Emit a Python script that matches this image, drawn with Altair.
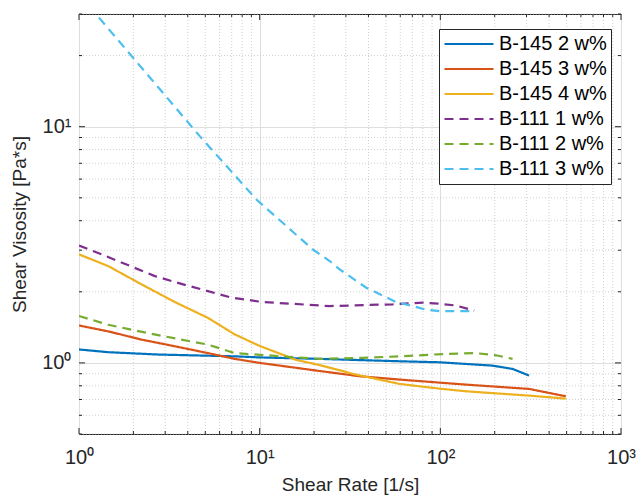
import altair as alt
import pandas as pd

series_names = ["B-145 2 w%", "B-145 3 w%", "B-145 4 w%", "B-111 1 w%", "B-111 2 w%", "B-111 3 w%"]
series_colors = ["#0072BD", "#D95319", "#EDB120", "#7E2F8E", "#77AC30", "#4DBEEE"]
series_dash = [[1, 0], [1, 0], [1, 0], [9, 6], [9, 6], [9, 6]]

b145_2_x = [1, 1.45, 2.74, 7.28, 10, 21.3, 59.3, 98.7, 194, 251, 310]
b145_2_y = [1.14, 1.11, 1.085, 1.066, 1.055, 1.04, 1.016, 1.006, 0.974, 0.943, 0.884]

b145_3_x = [1, 1.45, 2.22, 3.39, 5.18, 7.28, 10, 20.6, 35.7, 59.3, 139, 310, 495]
b145_3_y = [1.44, 1.36, 1.255, 1.176, 1.10, 1.04, 1.0, 0.928, 0.878, 0.85, 0.809, 0.776, 0.722]

b145_4_x = [1, 1.45, 2.22, 3.39, 5.18, 7.28, 10, 15.9, 21.3, 34.2, 59.3, 99, 139, 310, 495]
b145_4_y = [2.88, 2.57, 2.15, 1.81, 1.55, 1.32, 1.18, 1.03, 0.98, 0.892, 0.815, 0.778, 0.758, 0.727, 0.706]

b111_1_x = [1, 1.335, 2.63, 3.77, 6.98, 10.4, 24.4, 54.5, 79.8, 98.7, 122, 154]
b111_1_y = [3.14, 2.88, 2.33, 2.15, 1.89, 1.81, 1.74, 1.77, 1.80, 1.78, 1.75, 1.665]

b111_2_x = [1, 1.45, 2.74, 5.18, 7.28, 21.5, 37, 59.3, 103, 157, 203, 251]
b111_2_y = [1.58, 1.45, 1.31, 1.195, 1.10, 1.04, 1.05, 1.066, 1.09, 1.10, 1.077, 1.04]

b111_3_x = [1, 1.24, 4.66, 9.59, 19.7, 24.4, 27.7, 38.9, 56.9, 70.3, 83.4, 98.7, 154]
b111_3_y = [36, 30, 9.12, 4.92, 3.02, 2.70, 2.49, 2.08, 1.81, 1.74, 1.68, 1.655, 1.655]

x_major = [1, 10, 100, 1000]
y_major = [1, 10]
x_minor = [2, 3, 4, 5, 6, 7, 8, 9, 20, 30, 40, 50, 60, 70, 80, 90, 200, 300, 400, 500, 600, 700, 800, 900]
y_minor = [0.5, 0.6, 0.7, 0.8, 0.9, 2, 3, 4, 5, 6, 7, 8, 9, 20, 30]

xs = [b145_2_x, b145_3_x, b145_4_x, b111_1_x, b111_2_x, b111_3_x]
ys = [b145_2_y, b145_3_y, b145_4_y, b111_1_y, b111_2_y, b111_3_y]
rows = []
for name, xv, yv in zip(series_names, xs, ys):
    for i, (a, b) in enumerate(zip(xv, yv)):
        rows.append({"series": name, "rate": a, "visc": b, "order": i})
df = pd.DataFrame(rows)

FONT = "Liberation Sans"
TXT = "#262626"
W, H = 542, 420

xscale = alt.Scale(type="log", domain=[1, 1000], nice=False)
yscale = alt.Scale(type="log", domain=[0.5, 30], nice=False)
sup = "['⁰','¹','²','³'][round(log(datum.value)/LN10)]"

xaxis = alt.Axis(title="Shear Rate [1/s]", values=x_major, labelExpr="'10' + " + sup,
                 grid=True, gridColor="#dedede", ticks=False, domain=False,
                 labelFont=FONT, labelFontSize=20, labelColor=TXT, labelPadding=13,
                 titleFont=FONT, titleFontSize=19, titleFontWeight="normal", titleColor=TXT,
                 titlePadding=8, labelFlush=False)
yaxis = alt.Axis(title="Shear Visosity [Pa*s]", values=y_major, labelExpr="'10' + " + sup,
                 grid=True, gridColor="#dedede", ticks=False, domain=False,
                 labelFont=FONT, labelFontSize=20, labelColor=TXT, labelPadding=8,
                 titleFont=FONT, titleFontSize=19, titleFontWeight="normal", titleColor=TXT,
                 titlePadding=12, labelFlush=False)

xmin_df = pd.DataFrame({"v": x_minor})
ymin_df = pd.DataFrame({"v": y_minor})
xmaj_df = pd.DataFrame({"v": x_major})
ymaj_df = pd.DataFrame({"v": y_major})

def X(f):
    return alt.X(f, scale=xscale, axis=xaxis)

def Y(f):
    return alt.Y(f, scale=yscale, axis=yaxis)

minor_x = alt.Chart(xmin_df).mark_rule(color="#c4c4c4", strokeDash=[1, 2], strokeWidth=0.8).encode(x=X("v:Q"))
minor_y = alt.Chart(ymin_df).mark_rule(color="#c4c4c4", strokeDash=[1, 2], strokeWidth=0.8).encode(y=Y("v:Q"))

tick_col = TXT
def tickx(d, a, b):
    return alt.Chart(d).mark_rule(color=tick_col, strokeWidth=1).encode(x=X("v:Q"), y=alt.value(a), y2=alt.value(b))

def ticky(d, a, b):
    return alt.Chart(d).mark_rule(color=tick_col, strokeWidth=1).encode(y=Y("v:Q"), x=alt.value(a), x2=alt.value(b))

ticks = [
    tickx(xmaj_df, H, H - 6), tickx(xmaj_df, 0, 6), tickx(xmin_df, H, H - 3), tickx(xmin_df, 0, 3),
    ticky(ymaj_df, 0, 6), ticky(ymaj_df, W, W - 6), ticky(ymin_df, 0, 3), ticky(ymin_df, W, W - 3),
]

lines = alt.Chart(df).mark_line(strokeWidth=2.2, clip=True).encode(
    x=X("rate:Q"),
    y=Y("visc:Q"),
    color=alt.Color("series:N", scale=alt.Scale(domain=series_names, range=series_colors),
                    legend=alt.Legend(title=None, orient="none", legendX=360, legendY=15,
                                      symbolType="stroke", symbolSize=2400, symbolStrokeWidth=2.2,
                                      labelFont=FONT, labelFontSize=20, labelColor="#000000",
                                      fillColor="white", strokeColor="#262626", padding=4,
                                      clipHeight=22, rowPadding=3, labelOffset=4)),
    strokeDash=alt.StrokeDash("series:N", scale=alt.Scale(domain=series_names, range=series_dash),
                              legend=None),
    detail="series:N",
    order="order:Q",
)

chart = alt.layer(minor_x, minor_y, *ticks, lines).properties(
    width=W, height=H, padding={"left": 79, "top": 14, "right": 17, "bottom": 62}, autosize="none",
    background="white",
).configure_view(stroke="#262626", strokeWidth=1)

chart.save("out.html", embed_options={"renderer": "svg", "actions": False})
